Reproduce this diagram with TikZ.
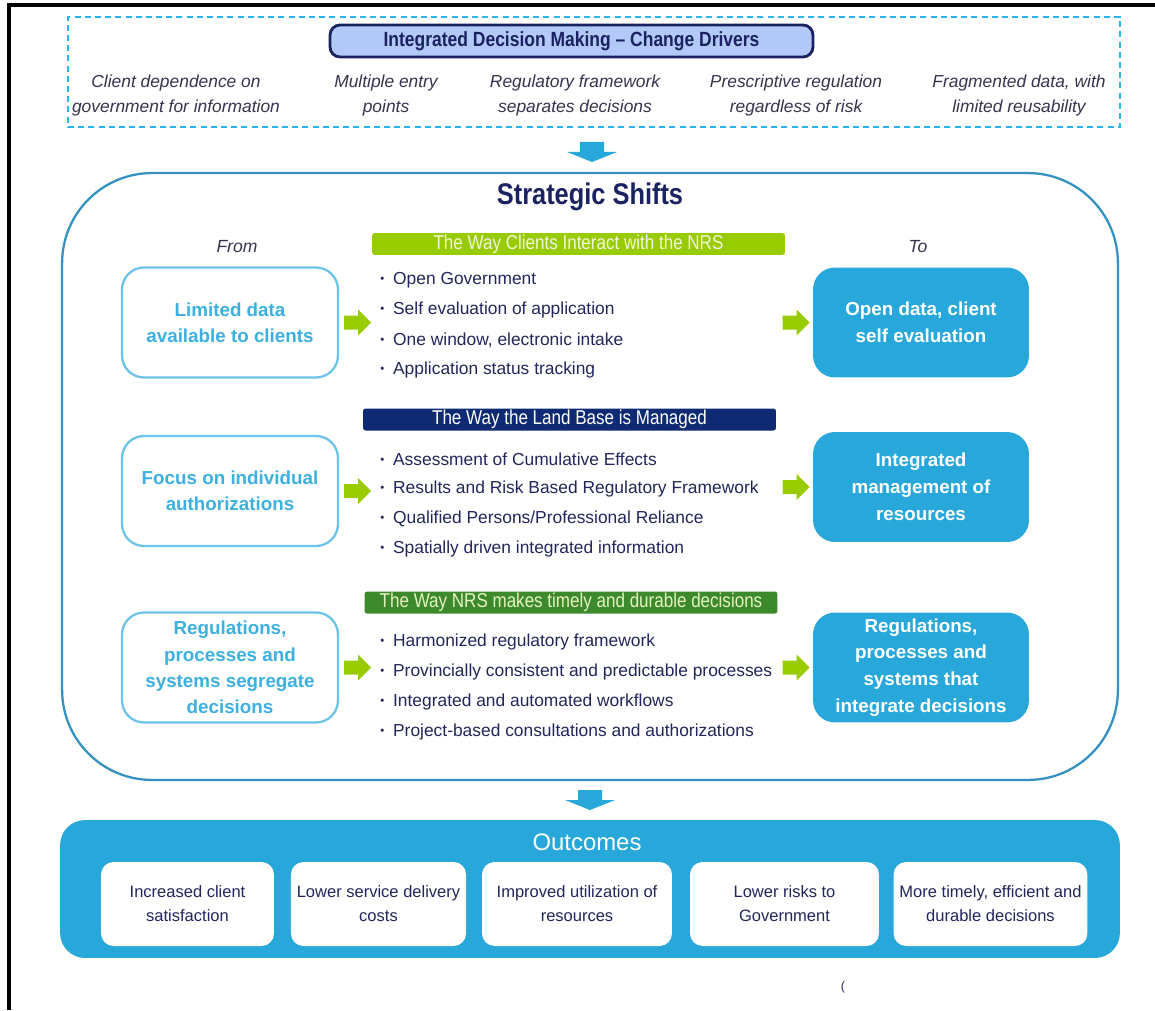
\documentclass[tikz,border=0pt]{standalone}
\usepackage{fontspec}
\setmainfont{Liberation Sans}
\newfontfamily\narrowfont[FakeStretch=0.85]{Liberation Sans}
\usetikzlibrary{positioning}

\definecolor{dashblue}{HTML}{2BB5E8}
\definecolor{headnavy}{HTML}{1B2262}
\definecolor{lavender}{HTML}{B3C9F7}
\definecolor{rimblue}{HTML}{3592C0}
\definecolor{fromblue}{HTML}{3DB0E0}
\definecolor{boxblue}{HTML}{28A8DA}
\definecolor{limegreen}{HTML}{99CC00}
\definecolor{barnavy}{HTML}{0E2A72}
\definecolor{leafgreen}{HTML}{3C8A2C}
\definecolor{inktext}{HTML}{22265A}
\definecolor{drvtext}{HTML}{34344E}

\begin{document}
\begin{tikzpicture}[x=0.02cm, y=-0.02cm,
    changebox/.style={draw=dashblue, line width=1.1pt, dash pattern=on 3.4pt off 2.4pt,
      minimum width=21.04cm, minimum height=2.2cm},
    titlebox/.style={draw=headnavy, line width=1.6pt, fill=lavender, rounded corners=0.2cm,
      minimum width=9.66cm, minimum height=0.64cm, text=headnavy,
      font=\narrowfont\bfseries\fontsize{11.7}{14}\selectfont},
    driver/.style={align=center, text=drvtext, font=\itshape\fontsize{9.9}{14.2}\selectfont},
    shiftbox/.style={draw=rimblue, line width=1.3pt, rounded corners=1.8cm,
      minimum width=21.12cm, minimum height=12.14cm},
    label/.style={text=drvtext, font=\itshape\fontsize{10}{12}\selectfont},
    frombox/.style={draw=fromblue!75, line width=1.3pt, fill=white, rounded corners=0.44cm,
      minimum width=4.32cm, minimum height=2.2cm, align=center, text=fromblue,
      font=\bfseries\fontsize{10.7}{15}\selectfont},
    tobox/.style={fill=boxblue, rounded corners=0.44cm,
      minimum width=4.32cm, minimum height=2.2cm, align=center, text=white,
      font=\bfseries\fontsize{10.7}{15.3}\selectfont},
    bar/.style={rounded corners=1.5pt, minimum width=8.26cm, minimum height=0.44cm, inner sep=0pt,
      font=\narrowfont\fontsize{11.4}{12}\selectfont},
    item/.style={anchor=west, inner sep=0pt, text=inktext, font=\fontsize{9.9}{12}\selectfont,
      execute at begin node={\raisebox{1pt}{\fontsize{6.5}{5}\selectfont\textbullet}\hspace{5pt}}},
    outbox/.style={fill=boxblue, rounded corners=0.5cm, minimum width=21.2cm, minimum height=2.76cm},
    outitem/.style={fill=white, rounded corners=0.25cm, minimum height=1.68cm, align=center,
      text=inktext, font=\fontsize{9.4}{13.6}\selectfont},
    garrow/.pic={\fill[limegreen] (0,-7) -- (14,-7) -- (14,-13) -- (27,0) -- (14,13) -- (14,7) -- (0,7) -- cycle;},
    darrow/.pic={\fill[boxblue] (-12,-10) -- (12,-10) -- (12,0) -- (25,0) -- (0,10) -- (-25,0) -- (-12,0) -- cycle;}]
\useasboundingbox (0,0) rectangle (1155,1010);
% page frame
\draw[line width=1.8pt] (9,1010) -- (9,5) -- (1155,5);

% change drivers
\node[changebox] (change) at (594,72) {};
\node[titlebox] (drivers) at (571.5,41) {Integrated Decision Making \textendash\ Change Drivers};
\foreach \x/\t [count=\i] in {176/{Client dependence on\\government for information},
    386/{Multiple entry\\points}, 575/{Regulatory framework\\separates decisions},
    796/{Prescriptive regulation\\regardless of risk}, 1019/{Fragmented data, with\\limited reusability}}
  \node[driver] (drv\i) at (\x,95.5) {\t};
\pic at (592,152) {darrow};

% strategic shifts
\node[shiftbox] (shifts) at (590,476.5) {};
\node[text=headnavy, font=\narrowfont\bfseries\fontsize{17}{20}\selectfont] (shtitle) at (590,197) {Strategic Shifts};
\node[label] (fromlbl) at (237,247) {From};
\node[label] (tolbl) at (918,247) {To};

\node[frombox] (from1) at (230,322.5) {Limited data\\available to clients};
\node[frombox] (from2) at (230,491) {Focus on individual\\authorizations};
\node[frombox] (from3) at (230,667.5) {Regulations,\\processes and\\systems segregate\\decisions};
\node[tobox] (to1) at (921,322.5) {Open data, client\\self evaluation};
\node[tobox] (to2) at (921,487) {Integrated\\management of\\resources};
\node[tobox] (to3) at (921,667.5) {Regulations,\\processes and\\systems that\\integrate decisions};

\node[bar, fill=limegreen, text=limegreen!15] (way1) at (578.5,244) {The Way Clients Interact with the NRS};
\node[bar, fill=barnavy, text=white] (way2) at (569.5,419.5) {The Way the Land Base is Managed};
\node[bar, fill=leafgreen, text=limegreen!25] (way3) at (571,602.5) {The Way NRS makes timely and durable decisions};

\foreach \t [count=\i] in {Open Government, Self evaluation of application,
    {One window, electronic intake}, Application status tracking}
  \node[item] (clients\i) at (380,250+30*\i) {\t};
\foreach \t [count=\i] in {Assessment of Cumulative Effects, Results and Risk Based Regulatory Framework,
    Qualified Persons/Professional Reliance, Spatially driven integrated information}
  \node[item] (land\i) at (380,429+30*\i) {\t};
\foreach \t [count=\i] in {Harmonized regulatory framework, Provincially consistent and predictable processes,
    Integrated and automated workflows, Project-based consultations and authorizations}
  \node[item] (nrs\i) at (380,612+30*\i) {\t};

\foreach \i in {1,2,3} {
  \path (from\i.east) ++(5,0) pic {garrow};
  \path (to\i.west) ++(-30,0) pic {garrow};
}
\pic at (590,800) {darrow};

% outcomes
\node[outbox] (outcomes) at (590,889) {};
\node[text=white, font=\fontsize{13.6}{16}\selectfont] (outtitle) at (587,842) {Outcomes};
\node[outitem, minimum width=3.46cm] (out1) at (187.5,904) {Increased client\\satisfaction};
\node[outitem, minimum width=3.46cm] (out2) at (378.5,904) {Lower service delivery\\costs};
\node[outitem, minimum width=3.8cm] (out3) at (577,904) {Improved utilization of\\resources};
\node[outitem, minimum width=3.78cm] (out4) at (784.5,904) {Lower risks to\\Government};
\node[outitem, minimum width=3.78cm] (out5) at (990.5,904) {More timely, efficient and\\durable decisions};
\node[text=inktext, font=\fontsize{7}{8}\selectfont] (mark) at (843,987) {(};
\end{tikzpicture}
\end{document}
